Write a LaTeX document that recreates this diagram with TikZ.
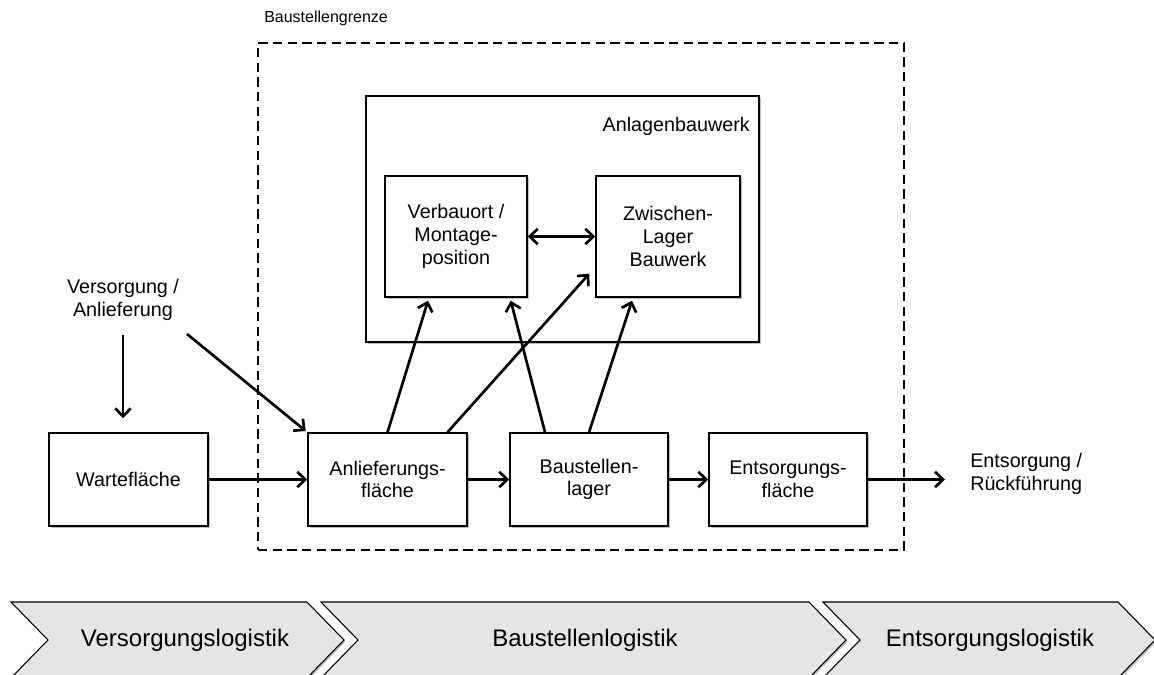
\documentclass[tikz,border=0pt]{standalone}
\usepackage{fontspec}
\setmainfont{Liberation Sans}
\usetikzlibrary{arrows.meta,shadows}
\newcommand\lblfont{\fontsize{14.8pt}{17pt}\selectfont}
\newcommand\phasefont{\fontsize{18pt}{21pt}\selectfont}
\newcommand\smallfont{\fontsize{12pt}{14pt}\selectfont}
\begin{document}
\begin{tikzpicture}[x=0.75pt,y=-0.75pt,
  softshadow/.style={drop shadow={shadow xshift=1.2pt,shadow yshift=-1.2pt,opacity=0.25,fill=black}},
  box/.style={draw,line width=1.1pt,fill=white,inner sep=0pt,align=center,font=\lblfont,softshadow},
  txt/.style={inner sep=0pt,align=center,font=\lblfont},
  tip/.tip={Straight Barb[length=6pt,width=11.5pt]},
  arr/.style={line width=2pt,-tip},
  darr/.style={line width=2pt,tip-tip},
  phase/.style={draw=black,line width=0.8pt,fill=black!10,softshadow},
  phasetxt/.style={inner sep=0pt,font=\phasefont}]
\useasboundingbox (0,0) rectangle (1154,675);

% site boundary
\node[draw,line width=1pt,dash pattern=on 7pt off 4pt,inner sep=0pt,
      minimum width=646*0.75pt,minimum height=507*0.75pt] (grenze) at (581,296.5) {};
\node[inner sep=0pt,font=\smallfont,anchor=west] (grenzelbl) at (264,18) {Baustellengrenze};

% building
\node[box,minimum width=393*0.75pt,minimum height=246*0.75pt] (bau) at (562.5,219) {};
\node[txt,anchor=east] (baulbl) at (750,126) {Anlagenbauwerk};
\node[box,minimum width=142*0.75pt,minimum height=121*0.75pt] (verb) at (456,236.5) {Verbauort /\\Montage-\\position};
\node[box,minimum width=144*0.75pt,minimum height=121*0.75pt] (zw) at (668,236.5) {Zwischen-\\Lager\\Bauwerk};

% areas
\node[box,minimum width=159*0.75pt,minimum height=93*0.75pt] (wait) at (128.5,479.5) {Wartefläche};
\node[box,minimum width=159*0.75pt,minimum height=93*0.75pt] (anl) at (387.5,479.5) {Anlieferungs-\\fläche};
\node[box,minimum width=158*0.75pt,minimum height=93*0.75pt] (lager) at (589,479.5) {Baustellen-\\lager};
\node[box,minimum width=158*0.75pt,minimum height=93*0.75pt] (ents) at (788,479.5) {Entsorgungs-\\fläche};

% external flows
\node[txt] (vers) at (123,300) {Versorgung /\\Anlieferung};
\node[txt,anchor=west,align=left] (entsl) at (970,474) {Entsorgung /\\Rückführung};
\coordinate (vfrom) at (187,334);
\coordinate (eout) at (945,479.5);

\draw[arr,shorten <=11pt,shorten >=10.5pt] (vers.south) -- (vers.south |- wait.north);
\draw[arr,shorten >=1.5pt] (vfrom) -- (anl.north west);
\draw[arr] (wait.east) -- (anl.west);
\draw[arr] (anl.east) -- (lager.west);
\draw[arr] (lager.east) -- (ents.west);
\draw[arr] (ents.east) -- (eout);

% flows into the building
\draw[arr] (anl.north) -- ([xshift=-21pt,yshift=-2.25pt]verb.south);
\draw[arr] ([xshift=45pt]anl.north) -- ([xshift=-4.5pt,yshift=18pt]zw.south west);
\draw[arr] ([xshift=-33pt]lager.north) -- ([xshift=-12.75pt,yshift=-2.25pt]verb.south east);
\draw[arr] (lager.north) -- ([xshift=-27pt,yshift=-2.25pt]zw.south);
\draw[darr] (verb.east) -- (zw.west);

% logistics phases
\path[phase] (11,602) -- (307,602) -- (344,640) -- (307,678) -- (11,678) -- (48,640) -- cycle;
\path[phase] (321,602) -- (809,602) -- (846,640) -- (809,678) -- (321,678) -- (358,640) -- cycle;
\path[phase] (823,602) -- (1118,602) -- (1155,640) -- (1118,678) -- (823,678) -- (860,640) -- cycle;
\node[phasetxt] (p1) at (185,640) {Versorgungslogistik};
\node[phasetxt] (p2) at (585,640) {Baustellenlogistik};
\node[phasetxt] (p3) at (990,640) {Entsorgungslogistik};
\end{tikzpicture}
\end{document}
